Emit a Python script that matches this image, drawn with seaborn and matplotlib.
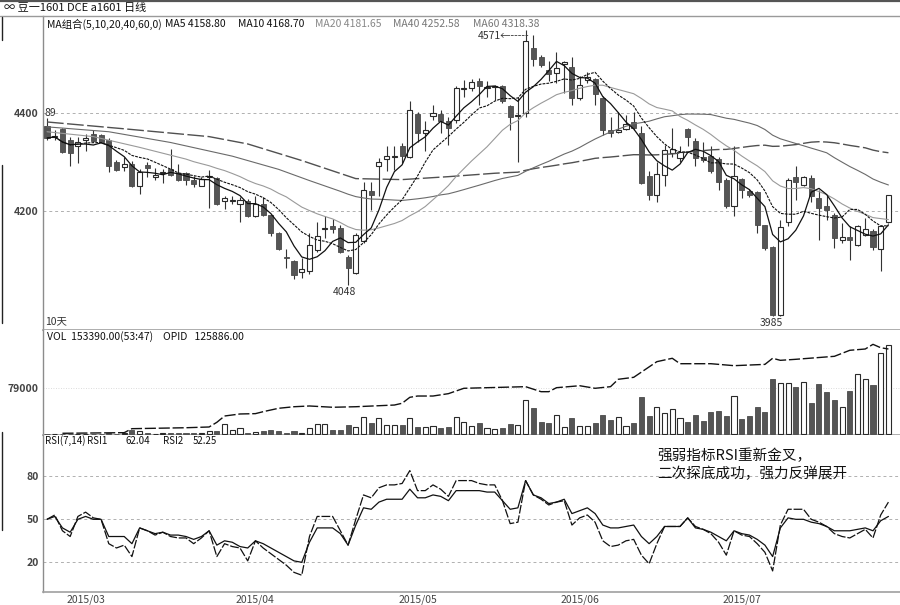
import numpy as np
import pandas as pd
import matplotlib
matplotlib.use("Agg")
import matplotlib.pyplot as plt
from matplotlib.lines import Line2D
import seaborn as sns

# ---------------- data ----------------
opens = [4374, 4351, 4368, 4346, 4332, 4345, 4357, 4356, 4346, 4301,
         4290, 4295, 4250, 4294, 4270, 4277, 4286, 4277, 4277, 4264,
         4251, 4270, 4267, 4220, 4221, 4213, 4221, 4189, 4213, 4192,
         4155, 4106, 4098, 4075, 4076, 4120, 4163, 4168, 4165, 4105,
         4073, 4138, 4240, 4291, 4306, 4311, 4333, 4311, 4399, 4359,
         4395, 4399, 4383, 4386, 4449, 4451, 4465, 4452, 4454, 4456,
         4415, 4395, 4400, 4533, 4516, 4489, 4482, 4500, 4495, 4431,
         4468, 4470, 4431, 4366, 4362, 4367, 4381, 4359, 4272, 4233,
         4274, 4318, 4308, 4367, 4343, 4310, 4313, 4306, 4264, 4209,
         4265, 4241, 4238, 4170, 4125, 3987, 4178, 4270, 4253, 4267,
         4226, 4209, 4192, 4140, 4146, 4131, 4151, 4159, 4122, 4178]
highs = [4390, 4366, 4370, 4352, 4352, 4357, 4366, 4358, 4350, 4305,
         4311, 4303, 4285, 4300, 4288, 4285, 4326, 4296, 4280, 4272,
         4270, 4284, 4270, 4231, 4230, 4228, 4225, 4231, 4228, 4193,
         4157, 4122, 4100, 4103, 4155, 4177, 4189, 4183, 4170, 4110,
         4155, 4260, 4260, 4308, 4332, 4332, 4339, 4424, 4402, 4383,
         4417, 4407, 4393, 4455, 4468, 4470, 4472, 4465, 4458, 4458,
         4417, 4434, 4571, 4560, 4520, 4506, 4525, 4506, 4516, 4476,
         4485, 4472, 4435, 4393, 4403, 4397, 4403, 4374, 4281, 4301,
         4335, 4369, 4332, 4369, 4349, 4342, 4333, 4310, 4268, 4332,
         4268, 4245, 4240, 4172, 4127, 4182, 4267, 4291, 4272, 4274,
         4243, 4233, 4195, 4175, 4168, 4170, 4185, 4162, 4170, 4233]
lows = [4346, 4345, 4318, 4292, 4298, 4322, 4340, 4340, 4280, 4282,
        4281, 4248, 4234, 4270, 4264, 4257, 4272, 4262, 4253, 4248,
        4250, 4206, 4212, 4203, 4213, 4178, 4188, 4187, 4190, 4148,
        4120, 4083, 4060, 4062, 4070, 4115, 4144, 4155, 4114, 4048,
        4070, 4135, 4202, 4230, 4281, 4284, 4298, 4308, 4342, 4322,
        4386, 4359, 4335, 4380, 4434, 4445, 4417, 4434, 4427, 4420,
        4366, 4301, 4393, 4496, 4495, 4465, 4461, 4441, 4417, 4427,
        4461, 4417, 4356, 4352, 4359, 4366, 4366, 4255, 4223, 4219,
        4250, 4311, 4300, 4332, 4291, 4301, 4277, 4243, 4206, 4189,
        4226, 4229, 4154, 4120, 3985, 3985, 4168, 4223, 4250, 4219,
        4141, 4182, 4124, 4135, 4100, 4129, 4148, 4120, 4076, 4175]
closes = [4349, 4354, 4320, 4318, 4342, 4350, 4344, 4342, 4291, 4283,
          4295, 4250, 4279, 4287, 4274, 4280, 4274, 4264, 4264, 4254,
          4265, 4272, 4213, 4226, 4223, 4222, 4190, 4213, 4192, 4155,
          4122, 4103, 4068, 4080, 4131, 4148, 4165, 4163, 4116, 4083,
          4151, 4243, 4232, 4301, 4313, 4312, 4313, 4407, 4360, 4366,
          4400, 4383, 4369, 4451, 4452, 4463, 4455, 4453, 4455, 4424,
          4392, 4397, 4547, 4511, 4499, 4481, 4492, 4504, 4431, 4458,
          4474, 4440, 4366, 4360, 4366, 4378, 4369, 4258, 4233, 4275,
          4325, 4326, 4320, 4351, 4308, 4305, 4281, 4260, 4210, 4272,
          4243, 4232, 4172, 4124, 3987, 4167, 4264, 4260, 4270, 4230,
          4206, 4201, 4144, 4146, 4140, 4168, 4163, 4125, 4168, 4233]
volumes = [300, 300, 400, 400, 500, 600, 700, 900, 2900, 1200,
           2900, 7400, 5700, 1700, 1200, 1500, 1500, 1500, 1700, 2900,
           2900, 5700, 5700, 17200, 7400, 10300, 2900, 3400, 6300, 6900,
           5700, 2000, 5700, 2900, 11400, 18300, 17200, 8000, 8000, 16000,
           13200, 29700, 19400, 27500, 15400, 15400, 15400, 27500, 12600, 12600,
           14300, 11400, 12600, 29700, 20600, 14300, 18900, 10300, 9200, 10300,
           17700, 16000, 58900, 44600, 20600, 18900, 32600, 12000, 27500, 13700,
           13700, 18900, 32600, 24600, 29200, 14300, 18900, 63500, 31500, 46300,
           36000, 42900, 27500, 21700, 33200, 23500, 38300, 40600, 31500, 65800,
           26300, 31500, 46900, 38900, 95000, 88100, 88100, 81200, 89200, 53800,
           86400, 73200, 58900, 46900, 74400, 103500, 94400, 84700, 139000, 153390]
opid_idx = [2, 10, 11, 18, 21, 22, 23, 25, 27, 28, 30, 32, 34, 37, 40, 45,
            46, 47, 48, 50, 52, 54, 59, 62, 64, 65, 66, 69, 71, 73, 74, 76,
            79, 81, 82, 86, 89, 93, 94, 95, 97, 102, 104, 106, 107, 108, 109]
opid_val = [1500, 2400, 8300, 9700, 10800, 17700, 27000, 30000, 30500, 33400,
            38400, 40700, 41800, 39900, 40700, 43200, 45800, 54600, 56500, 56500,
            60000, 67900, 69400, 70300, 62900, 62900, 68800, 71700, 67900, 70300,
            81200, 84100, 107200, 112200, 104200, 104200, 101300, 103200, 112200,
            109200, 110700, 115100, 124000, 125900, 132800, 127800, 125886]
rsi1 = [50, 53, 42, 38, 52, 55, 51, 50, 33, 30,
        32, 24, 44, 42, 39, 41, 38, 37, 37, 33,
        37, 42, 24, 33, 31, 30, 21, 35, 30, 26,
        22, 18, 13, 11, 38, 52, 52, 52, 42, 32,
        50, 67, 65, 72, 74, 74, 75, 84, 70, 70,
        74, 71, 66, 77, 77, 77, 75, 74, 74, 63,
        47, 48, 77, 67, 64, 60, 62, 63, 46, 51,
        53, 48, 35, 31, 32, 35, 36, 25, 19, 33,
        45, 45, 45, 51, 45, 43, 40, 34, 25, 42,
        39, 38, 33, 27, 14, 46, 57, 57, 57, 50,
        48, 45, 40, 38, 37, 40, 43, 37, 53, 62]
rsi2 = [50, 52, 44, 41, 50, 52, 50, 50, 38, 38,
        38, 33, 44, 42, 40, 41, 39, 39, 38, 36,
        38, 42, 32, 35, 34, 31, 30, 35, 33, 30,
        27, 24, 21, 20, 34, 44, 44, 44, 40, 32,
        46, 58, 57, 62, 64, 64, 64, 71, 65, 65,
        67, 66, 63, 70, 70, 70, 70, 69, 69, 63,
        57, 58, 77, 67, 65, 61, 62, 64, 54, 56,
        58, 54, 46, 44, 44, 45, 46, 38, 33, 38,
        45, 45, 45, 51, 44, 43, 41, 38, 35, 42,
        40, 39, 36, 32, 24, 44, 51, 50, 50, 48,
        47, 45, 42, 42, 42, 43, 44, 42, 49, 52]
# long moving averages: values read before their window is complete
ma20_head_idx = [0, 6, 12, 18]
ma20_head_val = [4362, 4352, 4330, 4306]
ma40_head_idx = [0, 8, 16, 24, 30, 34, 38]
ma40_head_val = [4372, 4362, 4340, 4312, 4285, 4262, 4240]
ma60_head_idx = [0, 10, 21, 26, 33, 40, 46, 52, 58]
ma60_head_val = [4382, 4368, 4352, 4337, 4303, 4266, 4264, 4270, 4277]
month_idx = [5, 27, 48, 69, 90]
month_labels = ["2015/03", "2015/04", "2015/05", "2015/06", "2015/07"]

# ---------------- style ----------------
sns.set_style("white")
plt.rcParams["font.family"] = ["Noto Sans CJK SC", "DejaVu Sans"]
plt.rcParams["axes.unicode_minus"] = False

N = len(closes)
idx = np.arange(N)
o = np.array(opens, float)
c = np.array(closes, float)
h = np.array(highs, float)
lo = np.array(lows, float)
up = c >= o

W, H = 900, 605
def fx(px):
    return px / W
def fy(py):
    return 1 - py / H

fig = plt.figure(figsize=(9, 6.05), dpi=100)
fig.patch.set_facecolor("white")
axP = fig.add_axes([fx(43), fy(330), fx(900) - fx(43), fy(16) - fy(330)])
axV = fig.add_axes([fx(43), fy(435), fx(900) - fx(43), fy(330) - fy(435)])
axR = fig.add_axes([fx(43), fy(592), fx(900) - fx(43), fy(435) - fy(592)])

XL = (-0.52, 110.5)
for ax in (axP, axV, axR):
    ax.set_xlim(*XL)
    ax.set_facecolor("white")
    ax.spines["top"].set_visible(False)
    ax.spines["right"].set_visible(False)
    ax.spines["left"].set_color("#8c8c8c")
    ax.spines["left"].set_linewidth(1.0)
    ax.spines["bottom"].set_color("#a0a0a0")
    ax.spines["bottom"].set_linewidth(1.2)
    ax.tick_params(length=0, labelsize=7.5, labelcolor="#444", pad=3)
    ax.grid(False)
    ax.set_xlabel("")
    ax.set_ylabel("")

# ---------------- price panel ----------------
axP.set_ylim(3956, 4599)
for lv in (4200, 4400):
    axP.axhline(lv, color="#b0b0b0", lw=0.7, ls=(0, (3, 3)), zorder=0)
axP.vlines(idx, lo, h, color="#333333", lw=0.8, zorder=2)
bb = np.minimum(o, c)
bh = np.maximum(np.abs(c - o), 1.6)
axP.bar(idx[up], bh[up], bottom=bb[up], width=0.66, color="white",
        edgecolor="#2a2a2a", linewidth=0.8, zorder=3)
axP.bar(idx[~up], bh[~up], bottom=bb[~up], width=0.66, color="#555555",
        edgecolor="#4a4a4a", linewidth=0.6, zorder=3)

cl = pd.Series(c)
ma5 = cl.rolling(5, min_periods=1).mean()
ma10 = cl.rolling(10, min_periods=1).mean()

def long_ma(n, hi, hv):
    r = cl.rolling(n).mean()
    xs = list(hi) + list(range(n - 1, N))
    ys = list(hv) + list(r.iloc[n - 1:])
    return xs, ys

x20, y20 = long_ma(20, ma20_head_idx, ma20_head_val)
x40, y40 = long_ma(40, ma40_head_idx, ma40_head_val)
x60, y60 = long_ma(60, ma60_head_idx, ma60_head_val)

sns.lineplot(x=x60, y=y60, ax=axP, color="#505050", lw=1.0, linestyle=(0, (12, 2.5)),
             estimator=None, sort=False, legend=False, zorder=4)
sns.lineplot(x=x40, y=y40, ax=axP, color="#6a6a6a", lw=0.8,
             estimator=None, sort=False, legend=False, zorder=4)
sns.lineplot(x=x20, y=y20, ax=axP, color="#9a9a9a", lw=0.8,
             estimator=None, sort=False, legend=False, zorder=4)
sns.lineplot(x=idx, y=ma10.values, ax=axP, color="#111111", lw=0.8, linestyle=(0, (2.5, 1)),
             estimator=None, sort=False, legend=False, zorder=5)
sns.lineplot(x=idx, y=ma5.values, ax=axP, color="#111111", lw=0.9,
             estimator=None, sort=False, legend=False, zorder=5)

axP.set_yticks([4200, 4400])
axP.set_yticklabels(["4200", "4400"], fontweight="bold")
axP.set_xticks([])

tc = "#333333"
axP.text(-0.3, 4400, "89", fontsize=7.5, color=tc, ha="left", va="center")
axP.text(55.8, 4558, "4571←-----", fontsize=7.5, color=tc, ha="left", va="center")
axP.text(38.6, 4034, "4048", fontsize=7.5, color=tc, ha="center", va="center")
axP.text(93.8, 3971, "3985", fontsize=7.5, color=tc, ha="center", va="center")
axP.text(-0.3, 3973, "10天", fontsize=7.5, color=tc, ha="left", va="center")

# ---------------- volume panel ----------------
axV.set_ylim(-1200, 179100)
axV.axhline(79000, color="#d0d0d0", lw=0.6, ls=(0, (1, 2)), zorder=0)
vol = np.array(volumes, float)
axV.bar(idx[up], vol[up], width=0.66, color="white", edgecolor="#2a2a2a",
        linewidth=0.8, zorder=3)
axV.bar(idx[~up], vol[~up], width=0.66, color="#555555", edgecolor="#4a4a4a",
        linewidth=0.6, zorder=3)
axV.set_yticks([79000])
axV.set_yticklabels(["79000"], fontweight="bold")
axV.set_xticks([])
axO = axV.twinx()
axO.set_ylim(-1030, 153950)
axO.set_xlim(*XL)
for s in axO.spines.values():
    s.set_visible(False)
sns.lineplot(x=opid_idx, y=opid_val, ax=axO, color="#111111", lw=1.0,
             linestyle=(0, (8, 2)), estimator=None, sort=False, legend=False, zorder=5)
axO.set_yticks([])
axO.set_ylabel("")

# ---------------- RSI panel ----------------
axR.set_ylim(-0.7, 108.8)
for lv in (20, 50, 80):
    axR.axhline(lv, color="#b0b0b0", lw=0.7, ls=(0, (3, 3)), zorder=0)
sns.lineplot(x=idx, y=rsi2, ax=axR, color="#111111", lw=0.9,
             estimator=None, sort=False, legend=False)
sns.lineplot(x=idx, y=rsi1, ax=axR, color="#111111", lw=0.9, linestyle=(0, (7, 1.5)),
             estimator=None, sort=False, legend=False)
axR.set_yticks([20, 50, 80])
axR.set_yticklabels(["20", "50", "80"], fontweight="bold")
axR.set_xticks(month_idx)
axR.set_xticklabels(month_labels, fontsize=7.5, color="#444")
axR.tick_params(axis="x", pad=2)
axR.text(79.0, 99, "强弱指标RSI重新金叉，\n二次探底成功，强力反弹展开", fontsize=10.5,
         color="#111", ha="left", va="top", linespacing=1.25)

# ---------------- headers ----------------
fig.add_artist(Line2D([0, 1], [fy(0.8), fy(0.8)], color="#555555", lw=1.6))
fig.add_artist(Line2D([0, 1], [fy(16), fy(16)], color="#9a9a9a", lw=1.0))
fig.add_artist(Line2D([fx(1.5), fx(1.5)], [fy(17), fy(40)], color="#222", lw=1.0))
fig.add_artist(Line2D([fx(1.5), fx(1.5)], [fy(165), fy(323)], color="#222", lw=1.0))
fig.add_artist(Line2D([fx(1.5), fx(1.5)], [fy(432), fy(530)], color="#222", lw=1.0))

fig.text(fx(4), fy(8), "∞ 豆一1601 DCE a1601 日线", fontsize=8, color="#111", va="center")
hy = fy(24)
fig.text(fx(47), hy, "MA组合(5,10,20,40,60,0)", fontsize=7.5, color="#111", va="center")
fig.text(fx(165), hy, "MA5 4158.80", fontsize=7.5, color="#111", va="center")
fig.text(fx(238), hy, "MA10 4168.70", fontsize=7.5, color="#111", va="center")
fig.text(fx(315), hy, "MA20 4181.65", fontsize=7.5, color="#888", va="center")
fig.text(fx(393), hy, "MA40 4252.58", fontsize=7.5, color="#777", va="center")
fig.text(fx(473), hy, "MA60 4318.38", fontsize=7.5, color="#777", va="center")

vy = fy(337)
fig.text(fx(47), vy, "VOL  153390.00(53:47)", fontsize=7.5, color="#111", va="center")
fig.text(fx(163), vy, "OPID   125886.00", fontsize=7.5, color="#111", va="center")

ry = fy(441)
fig.text(fx(45), ry, "RSI(7,14)", fontsize=7, color="#111", va="center")
fig.text(fx(87), ry, "RSI1", fontsize=7, color="#111", va="center")
fig.text(fx(125), ry, "62.04", fontsize=7, color="#111", va="center")
fig.text(fx(163), ry, "RSI2", fontsize=7, color="#111", va="center")
fig.text(fx(193), ry, "52.25", fontsize=7, color="#111", va="center")

fig.savefig("out.png", dpi=100, facecolor="white")
